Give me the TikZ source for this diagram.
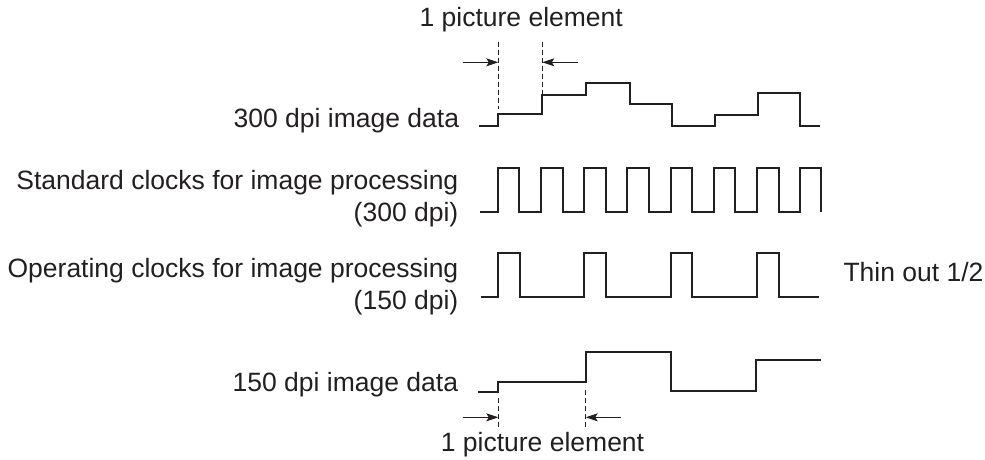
\documentclass[tikz,border=0pt]{standalone}
\usepackage{fontspec}
\setmainfont{Liberation Sans}
\usetikzlibrary{arrows.meta}
\definecolor{ink}{HTML}{231F20}
\tikzset{
  lbl/.style={font=\fontsize{26.5}{32}\selectfont, inner sep=0pt, text=ink},
  sig/.style={draw=ink, line width=2pt, line join=miter},
  guide/.style={draw=ink, line width=0.9pt, dash pattern=on 5pt off 3pt},
  dimarrow/.style={draw=ink, line width=0.9pt, -{Stealth[length=12pt, width=8pt, inset=2.5pt]}}
}
\begin{document}
\begin{tikzpicture}[x=1pt, y=-1pt]
\useasboundingbox (0,0) rectangle (985,459);

% ---- labels ----
\node[lbl, anchor=base] (pe1) at (521.2,26.7) {1 picture element};
\node[lbl, anchor=base east] (d300) at (459.3,127.7) {300 dpi image data};
\node[lbl, anchor=base east] (std1) at (458.5,189) {Standard clocks for image processing};
\node[lbl, anchor=base east] (std2) at (458.5,221) {(300 dpi)};
\node[lbl, anchor=base east] (op1) at (458.5,277) {Operating clocks for image processing};
\node[lbl, anchor=base east] (op2) at (458.5,309) {(150 dpi)};
\node[lbl, anchor=base west] (thin) at (843.3,281.7) {Thin out 1/2};
\node[lbl, anchor=base east] (d150) at (458.3,391.7) {150 dpi image data};
\node[lbl, anchor=base] (pe2) at (542.5,451.7) {1 picture element};

% ---- 300 dpi image data ----
\draw[sig] (479,125.7) -| (498,114) -| (542,95) -| (586,83.3) -| (629.5,104.3)
  -| (672,125.7) -| (715,115.3) -| (758,93) -| (800,125.7) -- (820,125.7);

% ---- standard clocks (300 dpi) ----
\draw[sig] (480,212)
  \foreach \k in {0,...,6} {
    -- ({497.7+43.2*\k},212) -- ({497.7+43.2*\k},168.3)
    -- ({519.3+43.2*\k},168.3) -- ({519.3+43.2*\k},212)
  }
  -- (800.1,212) -- (800.1,168.3) -- (821.2,168.3) -- (821.2,212);

% ---- operating clocks (150 dpi) ----
\draw[sig] (480.7,297)
  \foreach \k in {0,...,3} {
    -- ({497.7+86.4*\k},297) -- ({497.7+86.4*\k},252.7)
    -- ({519.6+86.4*\k},252.7) -- ({519.6+86.4*\k},297)
  }
  -- (819.3,297);

% ---- 150 dpi image data ----
\draw[sig] (478.3,392.3) -| (498.3,382.3) -| (585.7,351.7) -| (671.3,391)
  -| (756,360.3) -- (820.7,360.3);

% ---- top picture-element marks ----
\coordinate (ta) at (498.3,41.7);
\coordinate (tb) at (498.3,109);
\coordinate (tc) at (542.3,41.7);
\coordinate (td) at (542.3,95);
\coordinate (tl) at (463,62.3);
\coordinate (tlx) at (498.3,62.3);
\coordinate (tr) at (577.7,62.3);
\coordinate (trx) at (542.3,62.3);
\draw[guide] (ta) -- (tb);
\draw[guide] (tc) -- (td);
\draw[dimarrow] (tl) -- (tlx);
\draw[dimarrow] (tr) -- (trx);

% ---- bottom picture-element marks ----
\coordinate (ba) at (498.3,398);
\coordinate (bb) at (498.3,428.3);
\coordinate (bc) at (585.7,390);
\coordinate (bd) at (585.7,428.3);
\coordinate (bl) at (463.3,417.3);
\coordinate (blx) at (498.3,417.3);
\coordinate (br) at (620.7,417.3);
\coordinate (brx) at (585.7,417.3);
\draw[guide] (ba) -- (bb);
\draw[guide] (bc) -- (bd);
\draw[dimarrow] (bl) -- (blx);
\draw[dimarrow] (br) -- (brx);
\end{tikzpicture}
\end{document}
